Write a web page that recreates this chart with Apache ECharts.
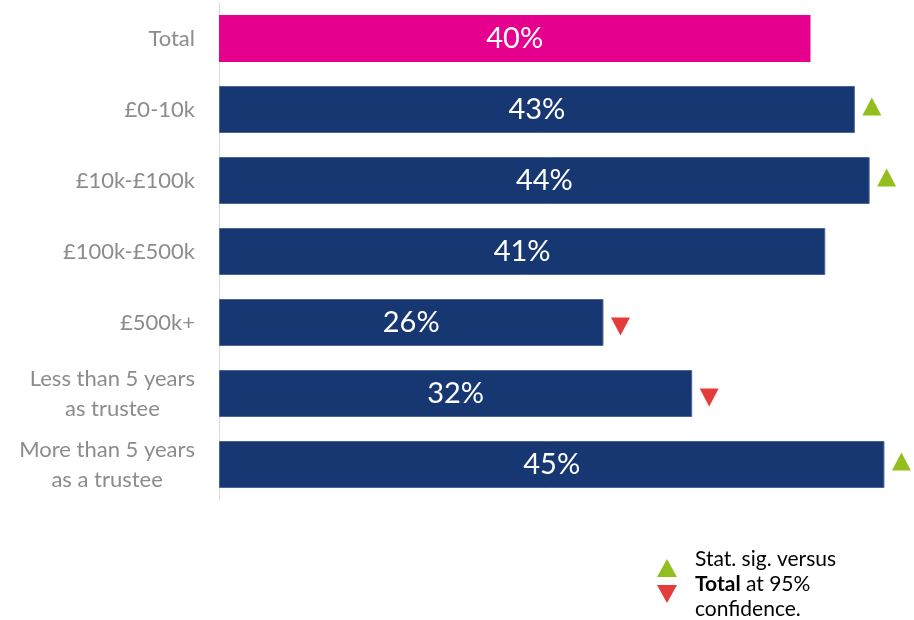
<!DOCTYPE html>
<html>
<head>
<meta charset="utf-8">
<style>
  html, body { margin: 0; padding: 0; background: #ffffff; }
  #chart { width: 914px; height: 620px; }
</style>
<script src="https://cdn.jsdelivr.net/npm/echarts@6/dist/echarts.min.js"></script>
</head>
<body>
<div id="chart"></div>
<script>
// Share of trustees per group (percent)
const categories = [
  'Total',
  '£0-10k',
  '£10k-£100k',
  '£100k-£500k',
  '£500k+',
  'Less than 5 years\nas trustee',
  'More than 5 years\nas a trustee'
];
const values = [40, 43, 44, 41, 26, 32, 45];
// Significance versus Total at 95% confidence: 'up', 'down' or '' (none)
const significance = ['', 'up', 'up', '', 'down', 'down', 'up'];

const FONT = 'Lato, "Open Sans", sans-serif';
const PINK = '#e6008e';
const NAVY = '#173773';
const GREEN = '#93bf1e';
const RED = '#e53b3b';

const chart = echarts.init(document.getElementById('chart'), null, { renderer: 'canvas' });

const barData = values.map((v, i) => ({
  value: v,
  itemStyle: i === 0
    ? { color: PINK }
    : { color: NAVY, borderColor: '#4a6696', borderWidth: 1 }
}));

const markerData = [];
significance.forEach((s, i) => {
  if (!s) return;
  markerData.push({
    value: [values[i], i],
    symbolRotate: s === 'up' ? 0 : 180,
    symbolOffset: [17, s === 'up' ? -3 : 4],
    itemStyle: { color: s === 'up' ? GREEN : RED, opacity: 1 }
  });
});

chart.setOption({
  animation: false,
  textStyle: { fontFamily: FONT },
  grid: { left: 219, top: 3, right: 0, height: 497, containLabel: false },
  xAxis: {
    type: 'value',
    min: 0,
    max: 47,
    show: false,
    splitLine: { show: false }
  },
  yAxis: {
    type: 'category',
    data: categories,
    inverse: true,
    axisLine: { show: true, lineStyle: { color: '#d9d9d9', width: 1 } },
    axisTick: { show: false },
    splitLine: { show: false },
    axisLabel: {
      margin: 24,
      formatter: (v) => v.split('\n').map(l => '{c|' + l + '}').join('\n'),
      rich: {
        c: {
          align: 'center',
          fontFamily: FONT,
          fontSize: 22,
          lineHeight: 30,
          color: '#8c8c8c'
        }
      }
    }
  },
  series: [
    {
      type: 'bar',
      data: barData,
      barWidth: 47,
      label: {
        show: true,
        position: 'inside',
        formatter: '{c}%',
        color: '#ffffff',
        fontFamily: FONT,
        fontSize: 29
      },
      silent: true
    },
    {
      type: 'scatter',
      data: markerData,
      symbol: 'triangle',
      symbolSize: [19, 18],
      silent: true,
      z: 3
    }
  ],
  graphic: [
    {
      type: 'polygon',
      shape: { points: [[667, 559], [677, 577], [657, 577]] },
      style: { fill: GREEN }
    },
    {
      type: 'polygon',
      shape: { points: [[657, 585], [677, 585], [667, 603]] },
      style: { fill: RED }
    },
    {
      type: 'text',
      left: 695,
      top: 549,
      style: {
        text: '{n|Stat. sig. versus}\n{b|Total}{n| at 95%}\n{n|confidence.}',
        rich: {
          n: { fontFamily: FONT, fontSize: 21, lineHeight: 25, color: '#595959' },
          b: { fontFamily: FONT, fontSize: 21, lineHeight: 25, color: '#595959', fontWeight: 'bold' }
        }
      }
    }
  ]
});
</script>
</body>
</html>
